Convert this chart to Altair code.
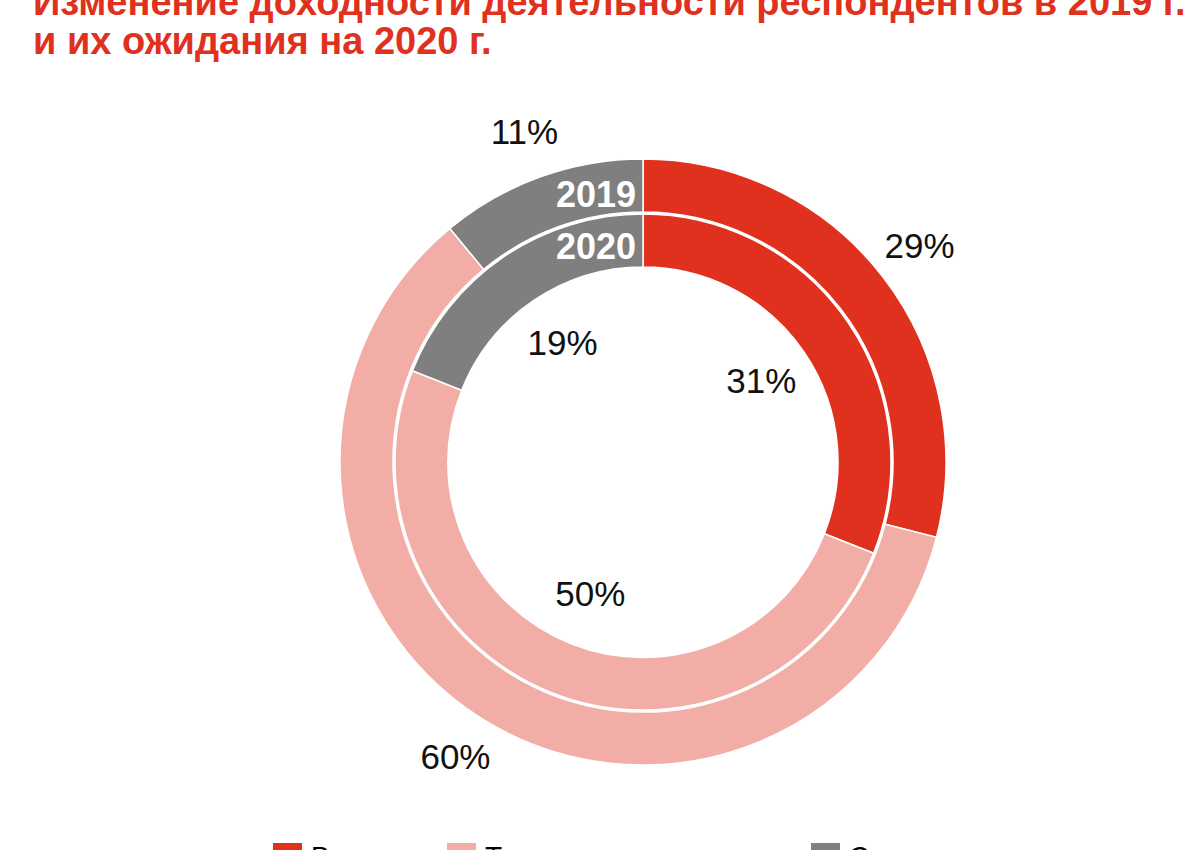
import altair as alt
import pandas as pd

categories = ["Выросла", "Такая же, как год назад", "Снизилась"]
values_2019 = [29, 60, 11]
values_2020 = [31, 50, 19]
colors = ["#E0301E", "#F2ADA6", "#7F7F7F"]
years = ["2019", "2020"]

rows = []
for year, vals in zip(years, [values_2019, values_2020]):
    for i, (c, v) in enumerate(zip(categories, vals)):
        rows.append({"year": year, "category": c, "order": i, "value": v, "label": f"{v}%"})
df = pd.DataFrame(rows)
year_df = pd.DataFrame({"year": years})

FONT = "Liberation Sans"
base = alt.Chart(df)

color = alt.Color(
    "category:N",
    scale=alt.Scale(domain=categories, range=colors),
    legend=alt.Legend(
        orient="none", direction="horizontal", legendX=187, legendY=773,
        title=None, symbolType="square", symbolSize=841, symbolStrokeWidth=0,
        labelFontSize=28, labelFont=FONT, labelColor="#000000",
        columnPadding=20, labelOffset=9, padding=0, labelLimit=500,
    ),
)
theta = alt.Theta("value:Q", stack=True)
order = alt.Order("order:Q")

outer = base.transform_filter(alt.datum.year == "2019").mark_arc(
    radius=303, radius2=250, stroke="white", strokeWidth=1.5
).encode(theta=theta, color=color, order=order)

inner = base.transform_filter(alt.datum.year == "2020").mark_arc(
    radius=248, radius2=195, stroke="white", strokeWidth=1.5
).encode(theta=theta, color=color, order=order)

outer_lbl = base.transform_filter(alt.datum.year == "2019").mark_text(
    radius=350, fontSize=35, font=FONT, color="#111111"
).encode(theta=theta, order=order, text="label:N")

inner_lbl = base.transform_filter(alt.datum.year == "2020").mark_text(
    radius=143, fontSize=35, font=FONT, color="#111111"
).encode(theta=theta, order=order, text="label:N")

y2019 = alt.Chart(year_df).transform_filter(alt.datum.year == "2019").mark_text(
    radius=266, theta=6.2569, align="right", baseline="middle",
    fontSize=36, fontWeight="bold", font=FONT, color="white"
).encode(text="year:N")

y2020 = alt.Chart(year_df).transform_filter(alt.datum.year == "2020").mark_text(
    radius=214, theta=6.2505, align="right", baseline="middle",
    fontSize=36, fontWeight="bold", font=FONT, color="white"
).encode(text="year:N")

chart = alt.layer(outer, inner, outer_lbl, inner_lbl, y2019, y2020).properties(
    width=1114, height=784,
    padding={"left": 86, "top": 70, "right": 0, "bottom": 0},
    autosize=alt.AutoSizeParams(type="none"),
    title=alt.Title(
        ["Изменение доходности деятельности респондентов в 2019 г.", "и их ожидания на 2020 г."],
        anchor="start", frame="group", color="#E0301E", fontSize=38, font=FONT,
        fontWeight="bold", lineHeight=39, offset=8, dx=-53,
    ),
).configure_view(stroke=None).configure(background="white")

chart.save("out.html", embed_options={"renderer": "svg", "actions": False})
